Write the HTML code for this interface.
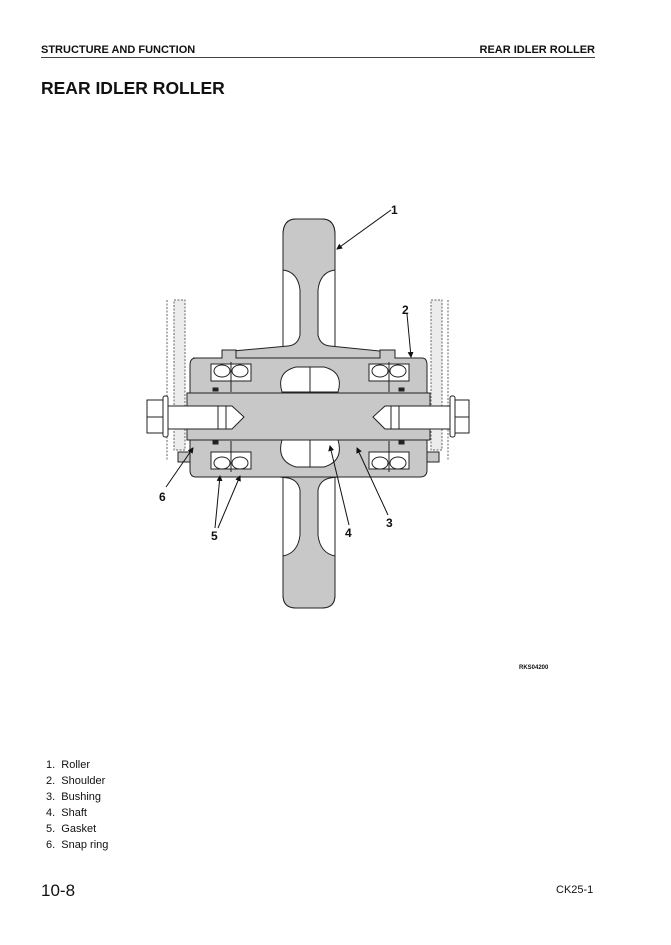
<!DOCTYPE html>
<html><head><meta charset="utf-8"><style>
html,body{margin:0;padding:0;background:#fff;}
body{width:671px;height:945px;position:relative;overflow:hidden;font-family:"Liberation Sans",sans-serif;color:#111;}
.t{position:absolute;white-space:nowrap;}
</style></head><body>
<div class="t" style="left:41px;top:44px;font-size:11px;font-weight:bold;">STRUCTURE AND FUNCTION</div>
<div class="t" style="right:76px;top:44px;font-size:11px;font-weight:bold;">REAR IDLER ROLLER</div>
<div style="position:absolute;left:41px;top:57px;width:554px;height:1px;background:#444;"></div>
<div class="t" style="left:41px;top:78px;font-size:17.5px;font-weight:bold;">REAR IDLER ROLLER</div>

<svg style="position:absolute;left:0;top:0" width="671" height="945" viewBox="0 0 671 945">
<defs><marker id="a" markerWidth="6" markerHeight="6" refX="5" refY="3" orient="auto"><path d="M0,0 L6,3 L0,6 Z" fill="#111"/></marker></defs>
<g stroke="#222" stroke-width="1" fill="#c8c8c8">
 <rect x="174" y="300" width="11" height="150" fill="#ececec" stroke="#666" stroke-dasharray="2,1.5"/>
 <line x1="167" y1="300" x2="167" y2="460" stroke-dasharray="2,1.5" stroke="#666"/>
 <rect x="431" y="300" width="11" height="150" fill="#ececec" stroke="#666" stroke-dasharray="2,1.5"/>
 <line x1="448" y1="300" x2="448" y2="460" stroke-dasharray="2,1.5" stroke="#666"/>
 <path d="M283,235 Q283,219 296,219 L322,219 Q335,219 335,235 L335,595 Q335,608 322,608 L296,608 Q283,608 283,595 Z" fill="#fff"/>
 <path d="M283,235 Q283,219 296,219 L322,219 Q335,219 335,235 L335,270 Q320,272 318,290 L318,335 Q320,345 330,346 L390,352 L390,470 L330,478 Q320,480 318,490 L318,535 Q320,553 335,556 L335,595 Q335,608 322,608 L296,608 Q283,608 283,595 L283,556 Q298,553 300,535 L300,490 Q298,480 288,478 L222,470 L222,352 L288,346 Q298,345 300,335 L300,290 Q298,272 283,270 Z"/>
 <path d="M193,358 L222,358 L222,350 L236,350 L236,358 L380,358 L380,350 L395,350 L395,358 L422,358 Q427,358 427,365 L427,470 Q427,477 420,477 L196,477 Q190,477 190,470 L190,365 Q190,358 196,358 Z"/>
 <path d="M282,392 Q276,372 296,367 L324,367 Q344,372 338,392 Z" fill="#fff"/>
 <path d="M282,440 Q276,461 296,467 L324,467 Q344,461 338,440 Z" fill="#fff"/>
 <line x1="310" y1="367" x2="310" y2="392"/>
 <line x1="310" y1="440" x2="310" y2="467"/>
 <rect x="187" y="393" width="243" height="47"/>
 <path d="M168,406 L232,406 L244,417 L232,429 L168,429 Z" fill="#fff"/>
 <line x1="218" y1="406" x2="218" y2="429"/><line x1="226" y1="406" x2="226" y2="429"/>
 <path d="M450,406 L385,406 L373,417 L385,429 L450,429 Z" fill="#fff"/>
 <line x1="391" y1="406" x2="391" y2="429"/><line x1="399" y1="406" x2="399" y2="429"/>
 <rect x="163" y="396" width="5" height="41" rx="2" fill="#fff"/>
 <rect x="147" y="400" width="16" height="33" fill="#fff"/>
 <line x1="147" y1="417" x2="163" y2="417"/>
 <rect x="450" y="396" width="5" height="41" rx="2" fill="#fff"/>
 <rect x="455" y="400" width="14" height="33" fill="#fff"/>
 <line x1="455" y1="417" x2="469" y2="417"/>
 <g fill="#fff">
  <rect x="211" y="364" width="40" height="17"/><ellipse cx="222" cy="371" rx="8" ry="6"/><ellipse cx="240" cy="371" rx="8" ry="6"/>
  <rect x="369" y="364" width="40" height="17"/><ellipse cx="380" cy="371" rx="8" ry="6"/><ellipse cx="398" cy="371" rx="8" ry="6"/>
  <rect x="211" y="452" width="40" height="17"/><ellipse cx="222" cy="463" rx="8" ry="6"/><ellipse cx="240" cy="463" rx="8" ry="6"/>
  <rect x="369" y="452" width="40" height="17"/><ellipse cx="380" cy="463" rx="8" ry="6"/><ellipse cx="398" cy="463" rx="8" ry="6"/>
 </g>
 <line x1="231" y1="362" x2="231" y2="392"/><line x1="389" y1="362" x2="389" y2="392"/>
 <line x1="231" y1="441" x2="231" y2="472"/><line x1="389" y1="441" x2="389" y2="472"/>
 <rect x="213" y="388" width="5" height="3" fill="#222"/><rect x="399" y="388" width="5" height="3" fill="#222"/>
 <rect x="213" y="441" width="5" height="3" fill="#222"/><rect x="399" y="441" width="5" height="3" fill="#222"/>
 <line x1="250" y1="440" x2="370" y2="440"/>
 <path d="M178,452 L190,452 L190,462 L178,462 Z"/>
 <path d="M427,452 L439,452 L439,462 L427,462 Z"/>
</g>
<g stroke="#111" stroke-width="1" fill="none" marker-end="url(#a)">
 <line x1="391" y1="210" x2="337" y2="249"/>
 <line x1="407" y1="314" x2="411" y2="357"/>
 <line x1="166" y1="487" x2="193" y2="448"/>
 <line x1="215" y1="528" x2="220" y2="476"/>
 <line x1="218" y1="528" x2="240" y2="476"/>
 <line x1="349" y1="525" x2="330" y2="446"/>
 <line x1="388" y1="515" x2="357" y2="448"/>
</g>
<g fill="#111" font-family="Liberation Sans,sans-serif" font-weight="bold" font-size="12">
 <text x="391" y="214">1</text><text x="402" y="314">2</text><text x="386" y="527">3</text>
 <text x="345" y="537">4</text><text x="211" y="540">5</text><text x="159" y="501">6</text>
 <text x="519" y="669" font-size="6">RKS04200</text>
</g>
</svg>

<div class="t" style="left:46px;top:757px;font-size:11px;line-height:16px;">
1.&nbsp; Roller<br>2.&nbsp; Shoulder<br>3.&nbsp; Bushing<br>4.&nbsp; Shaft<br>5.&nbsp; Gasket<br>6.&nbsp; Snap ring
</div>
<div class="t" style="left:41px;top:881px;font-size:17px;">10-8</div>
<div class="t" style="left:556px;top:884px;font-size:11px;">CK25-1</div>
</body></html>
